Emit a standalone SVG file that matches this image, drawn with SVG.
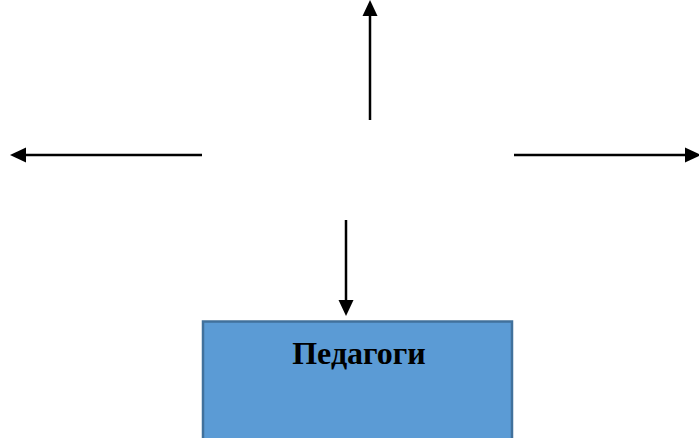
<svg xmlns="http://www.w3.org/2000/svg" width="699" height="438" viewBox="0 0 699 438">
<style>
.conn{stroke:#000;stroke-width:2.5;fill:none}
.head{fill:#000}
.box{fill:#5b9bd5;stroke:#41719c;stroke-width:2.5}
.lbl{font-family:"Liberation Serif",serif;font-weight:bold;font-size:32px;fill:#000}
</style>
<rect width="699" height="438" fill="#fff"/>
<g id="connectors">
<line class="conn" x1="370" y1="120" x2="370" y2="14"/>
<polygon class="head" points="370,0 362.5,16 377.5,16"/>
<line class="conn" x1="202" y1="155" x2="24" y2="155"/>
<polygon class="head" points="10,155 26,147.5 26,162.5"/>
<line class="conn" x1="514" y1="155" x2="687" y2="155"/>
<polygon class="head" points="701,155 685,147.5 685,162.5"/>
<line class="conn" x1="346" y1="220" x2="346" y2="302"/>
<polygon class="head" points="346,316 338.5,300 353.5,300"/>
</g>
<g id="node-pedagogi">
<rect class="box" x="203" y="321.5" width="309" height="130"/>
<text class="lbl" x="359" y="364" text-anchor="middle">Педагоги</text>
</g>
</svg>
